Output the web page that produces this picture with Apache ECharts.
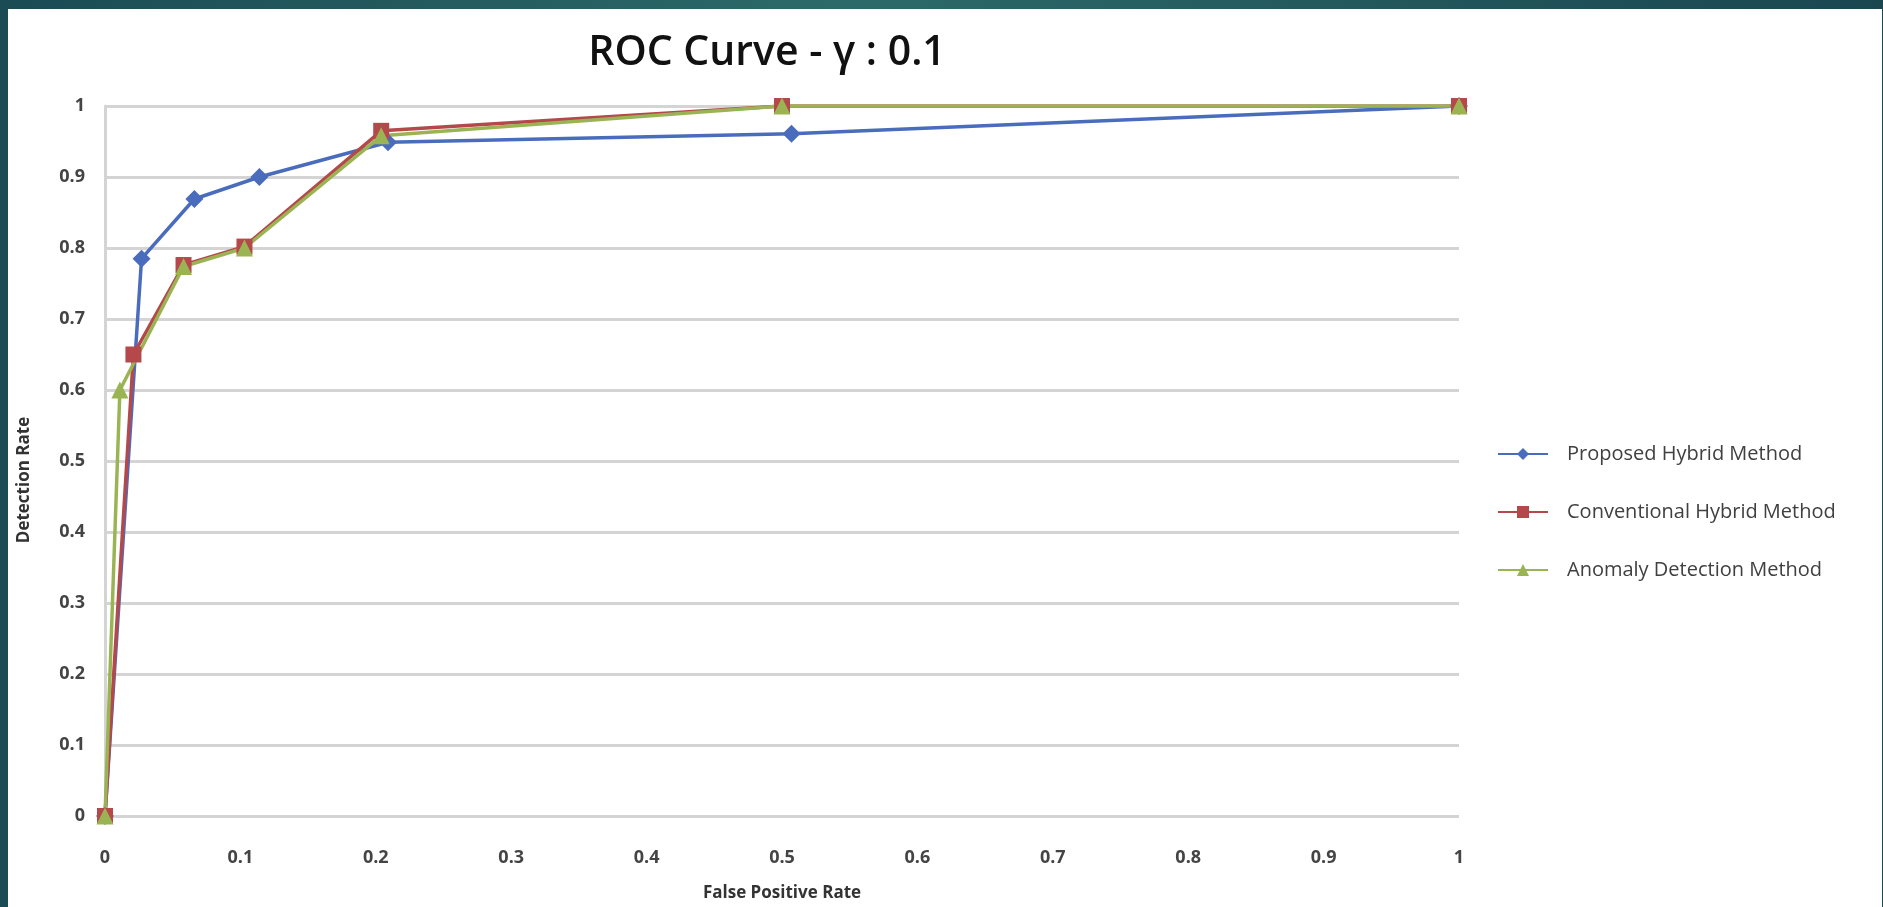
<!DOCTYPE html>
<html>
<head>
<meta charset="utf-8">
<script src="https://cdn.jsdelivr.net/npm/echarts@6/dist/echarts.min.js"></script>
<style>
  html, body { margin: 0; padding: 0; width: 1883px; height: 907px; overflow: hidden;
    background: linear-gradient(90deg, #1b4b54 0%, #2c6a69 45%, #1a4650 100%); }
  #chart { position: absolute; left: 8px; top: 9px; width: 1874px; height: 898px; background: #fff; }
</style>
</head>
<body>
<div id="chart"></div>
<script>
// ROC points [false positive rate, detection rate]
const proposedHybrid = [[0, 0], [0.027, 0.785], [0.066, 0.869], [0.114, 0.9], [0.209, 0.949], [0.507, 0.961], [1, 1]];
const conventionalHybrid = [[0, 0], [0.021, 0.65], [0.058, 0.776], [0.103, 0.802], [0.204, 0.965], [0.5, 1], [1, 1]];
const anomalyDetection = [[0, 0], [0.011, 0.6], [0.058, 0.774], [0.103, 0.8], [0.204, 0.958], [0.5, 1], [1, 1]];
const seriesNames = ['Proposed Hybrid Method', 'Conventional Hybrid Method', 'Anomaly Detection Method'];

let myChart = echarts.init(document.getElementById('chart'));

const font = 'Open Sans';

function lineSeries(name, data, color, symbol, size) {
  return {
    name: name,
    type: 'line',
    data: data,
    symbol: symbol,
    symbolSize: size,
    lineStyle: { color: color, width: 3.5 },
    itemStyle: { color: color },
    emphasis: { disabled: true },
    animation: false
  }
}

myChart.setOption({
  title: {
    text: 'ROC Curve - γ : 0.1',
    left: 754,
    top: 19,
    textAlign: 'center',
    textStyle: { fontFamily: font, fontSize: 41, fontWeight: 600, color: '#111' }
  },
  legend: {
    orient: 'vertical',
    left: 1484,
    top: 430,
    itemWidth: 50,
    itemHeight: 15,
    itemGap: 38,
    textStyle: { fontFamily: font, fontSize: 20, color: '#404040', padding: [0, 0, 0, 14] },
    data: seriesNames
  },
  grid: { left: 95, right: 423, top: 97, bottom: 87 },
  xAxis: {
    type: 'value',
    min: 0, max: 1, interval: 0.1,
    name: 'False Positive Rate',
    nameLocation: 'middle',
    nameGap: 69,
    nameTextStyle: { fontFamily: font, fontSize: 17, fontWeight: 'bold', color: '#333' },
    axisLine: { show: false },
    axisTick: { show: false },
    splitLine: { show: false },
    axisLabel: { margin: 33, fontFamily: font, fontSize: 18, fontWeight: 'bold', color: '#444' }
  },
  yAxis: {
    type: 'value',
    min: 0, max: 1, interval: 0.1,
    name: 'Detection Rate',
    nameLocation: 'middle',
    nameGap: 72,
    nameTextStyle: { fontFamily: font, fontSize: 17, fontWeight: 'bold', color: '#333', padding: [0, 38, 0, 0] },
    axisLine: { show: true, lineStyle: { color: '#d4d4d4', width: 3 } },
    axisTick: { show: false },
    splitLine: { lineStyle: { color: '#d4d4d4', width: 3 } },
    axisLabel: { margin: 20, fontFamily: font, fontSize: 18, fontWeight: 'bold', color: '#444' }
  },
  series: [
    lineSeries(seriesNames[0], proposedHybrid, '#4a6cbd', 'diamond', 18),
    lineSeries(seriesNames[1], conventionalHybrid, '#b4484a', 'rect', 16),
    lineSeries(seriesNames[2], anomalyDetection, '#9bb453', 'triangle', 17)
  ]
});
</script>
</body>
</html>
